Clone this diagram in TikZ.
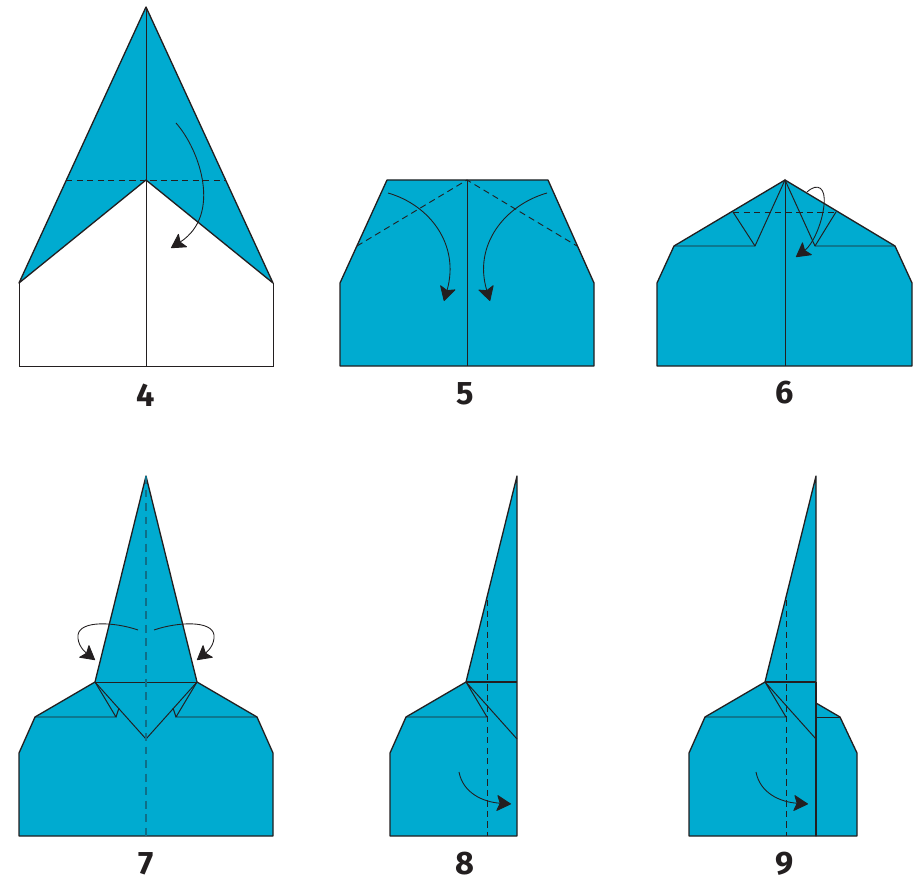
\documentclass[tikz,border=0pt]{standalone}
\usepackage{fontspec}
\setsansfont{Fira Sans}
\usetikzlibrary{arrows.meta}
\definecolor{paper}{HTML}{00ABD0}
\definecolor{inkline}{HTML}{231F20}
\definecolor{creaseline}{HTML}{0F6F88}
\begin{document}
\begin{tikzpicture}[x=0.02cm, y=-0.02cm,
    sheet/.style={fill=paper, draw=inkline, line width=0.75pt, line join=round},
    fold/.style={draw=inkline, line width=0.55pt},
    thickfold/.style={draw=inkline, line width=1.1pt},
    valley/.style={draw=inkline, line width=0.5pt, dash pattern=on 3.6pt off 2.4pt},
    crease/.style={draw=creaseline, line width=0.8pt, dash pattern=on 4.5pt off 3.2pt},
    turn/.style={draw=inkline, line width=0.5pt, -{Stealth[length=8.5pt, width=9.5pt, inset=1.8pt, round, line width=0.5pt]}},
    steplabel/.style={font=\sffamily\bfseries\fontsize{18.5}{19}\selectfont, text=inkline}]

    \useasboundingbox (0,0) rectangle (924,882);

    % step 4
    \fill[white] (19,283) -- (146,180) -- (273,283) -- (273,366) -- (19,366) -- cycle;
    \draw[sheet] (146,7) -- (273,283) -- (146,180) -- (19,283) -- cycle;
    \draw[fold] (19,283) -- (19,366) -- (273,366) -- (273,283);
    \draw[fold] (146,7) -- (146,366);
    \draw[valley] (66,180) -- (226,180);
    \draw[turn] (176,123) .. controls (200,150) and (222,215) .. (171,248);
    \node[steplabel] (label4) at (146,395) {4};

    % step 5
    \draw[sheet] (387,180) -- (548,180) -- (594,283) -- (594,366) -- (340,366) -- (340,283) -- cycle;
    \draw[fold] (467,180) -- (467,366);
    \draw[valley] (357,246) -- (467,180) -- (577,246);
    \draw[turn] (388,193) .. controls (430,205) and (460,245) .. (444,301);
    \draw[turn] (547,193) .. controls (505,205) and (473,245) .. (490,301);
    \node[steplabel] (label5) at (465,394) {5};

    % step 6
    \draw[sheet] (785,180) -- (895,246) -- (912,283) -- (912,366) -- (657,366) -- (657,283) -- (674,246) -- cycle;
    \draw[fold] (785,180) -- (785,366);
    \draw[fold] (674,246) -- (755,246) -- (785,180) -- (815,246) -- (895,246);
    \draw[fold] (733,212) -- (755,246);
    \draw[fold] (836,212) -- (815,246);
    \draw[valley] (733,212) -- (836,212);
    \draw[turn] (807,192) .. controls (818,182) and (826,188) .. (824,205) .. controls (822,225) and (812,245) .. (796,257);
    \node[steplabel] (label6) at (785,393) {6};

    % step 7
    \draw[sheet] (146,476) -- (197,682) -- (257,717) -- (273,753) -- (273,836) -- (19,836) -- (19,753) -- (35,717) -- (95,682) -- cycle;
    \draw[fold] (95,682) -- (197,682);
    \draw[fold] (95,682) -- (146,739) -- (197,682);
    \draw[fold] (35,717) -- (116,717) -- (95,682);
    \draw[fold] (257,717) -- (176,717) -- (197,682);
    \draw[fold] (116,717) -- (119,708);
    \draw[fold] (176,717) -- (173,708);
    \draw[crease] (146,476) -- (146,836);
    \draw[turn] (138,630) .. controls (115,622) and (80,620) .. (78,635) .. controls (77,645) and (85,652) .. (95,660);
    \draw[turn] (154,630) .. controls (177,622) and (212,620) .. (214,635) .. controls (215,645) and (207,652) .. (197,660);
    \node[steplabel] (label7) at (146,864) {7};

    % step 8
    \draw[sheet] (517,476) -- (517,836) -- (390,836) -- (390,753) -- (406,717) -- (466,682) -- cycle;
    \draw[thickfold] (466,682) -- (517,682);
    \draw[fold] (406,717) -- (487,717) -- (466,682) -- (517,739);
    \draw[valley] (487,600) -- (487,836);
    \draw[turn] (459,772) .. controls (463,793) and (483,802) .. (511,804);
    \node[steplabel] (label8) at (465,864) {8};

    % step 9
    \draw[sheet] (816,703) -- (840,717) -- (857,753) -- (857,836) -- (816,836) -- cycle;
    \draw[sheet] (816,476) -- (816,836) -- (689,836) -- (689,753) -- (705,717) -- (765,682) -- cycle;
    \draw[thickfold] (765,682) -- (816,682);
    \draw[thickfold] (816,682) -- (816,836);
    \draw[fold] (705,717) -- (786,717) -- (765,682) -- (816,739);
    \draw[fold] (816,717) -- (840,717);
    \draw[valley] (786,600) -- (786,836);
    \draw[turn] (756,772) .. controls (760,793) and (780,802) .. (808,804);
    \node[steplabel] (label9) at (785,864) {9};

\end{tikzpicture}
\end{document}
